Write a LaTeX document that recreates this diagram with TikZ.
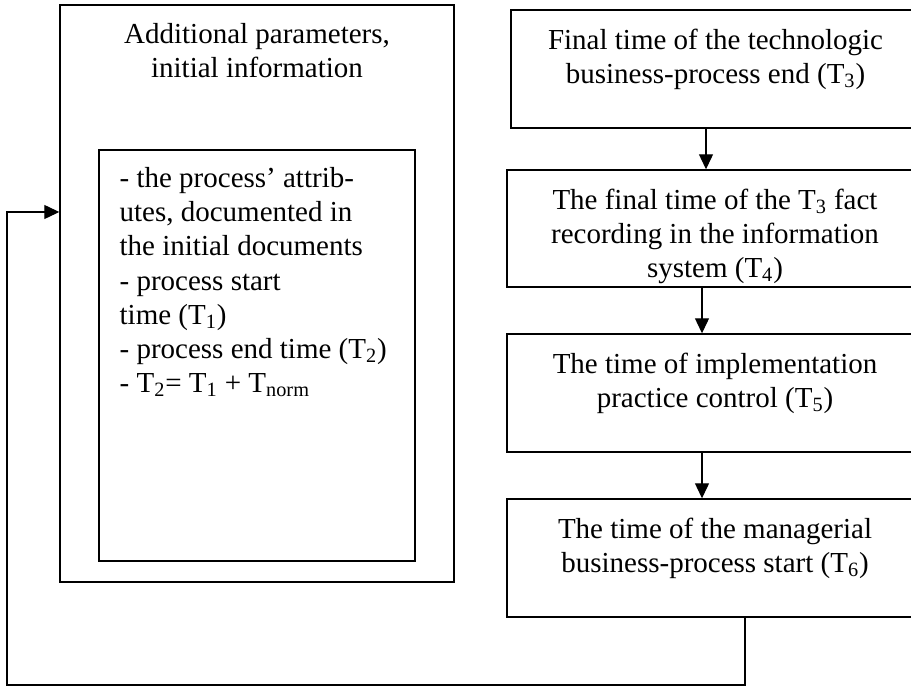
\documentclass[tikz,border=0pt]{standalone}
\usepackage{fontspec}
\setmainfont{Liberation Serif}
\usetikzlibrary{positioning,arrows.meta}

\tikzset{
  frame/.style={draw,line width=0.8pt,inner sep=0pt},
  txt/.style={inner sep=0pt,anchor=north,align=center,font=\fontsize{16.5}{19.4}\selectfont},
  link/.style={line width=0.7pt,-{Triangle[length=0.3cm,width=0.28cm]}}
}

\begin{document}
\begin{tikzpicture}[scale=1]

% Time parameters of the business-process

\useasboundingbox (0,0) rectangle (18.22,13.74);
\clip (0,0) rectangle (18.22,13.74);

\begin{scope}
\node[frame,minimum width=7.88cm,minimum height=11.54cm] (out) at (5.14,7.87) {};
\node[frame,minimum width=6.32cm,minimum height=8.22cm] (inn) at (5.14,6.63) {};
\node[txt] (outtxt) at ([yshift=-0.38cm]out.north) {Additional parameters,\\initial information};
\node[txt,anchor=north west,align=left] (inntxt) at ([xshift=0.42cm,yshift=-0.36cm]inn.north west)
  {- the process’ attrib-\\utes, documented in\\the initial documents\\- process start\\time (T\textsubscript{1})\\- process end time (T\textsubscript{2})\\- T\textsubscript{2}= T\textsubscript{1} + T\textsubscript{norm}};
\end{scope}

\begin{scope}
\node[frame,minimum width=8.18cm,minimum height=2.36cm] (t3) at (14.31,12.36) {};
\node[frame,minimum width=8.26cm,minimum height=2.34cm] (t4) at (14.27,9.17) {};
\node[frame,minimum width=8.26cm,minimum height=2.36cm] (t5) at (14.27,5.88) {};
\node[frame,minimum width=8.26cm,minimum height=2.36cm] (t6) at (14.27,2.58) {};

\node[txt] (t3txt) at ([yshift=-0.38cm]t3.north) {Final time of the technologic\\business-process end (T\textsubscript{3})};
\node[txt] (t4txt) at ([xshift=0.03cm,yshift=-0.38cm]t4.north) {The final time of the T\textsubscript{3} fact\\recording in the information\\system (T\textsubscript{4})};
\node[txt] (t5txt) at ([xshift=0.03cm,yshift=-0.38cm]t5.north) {The time of implementation\\practice control (T\textsubscript{5})};
\node[txt] (t6txt) at ([xshift=0.03cm,yshift=-0.38cm]t6.north) {The time of the managerial\\business-process start (T\textsubscript{6})};

\draw[link] ([xshift=-0.19cm]t3.south) -- ([xshift=-0.19cm]t3.south |- t4.north);
\draw[link] ([xshift=-0.23cm]t4.south) -- ([xshift=-0.23cm]t5.north);
\draw[link] ([xshift=-0.23cm]t5.south) -- ([xshift=-0.23cm]t6.north);
\end{scope}

% feedback to the initial information
\coordinate (fb) at (0.14,0.04);
\coordinate (in) at ([yshift=1.63cm]out.west);
\draw[link] ([xshift=0.63cm]t6.south) |- (fb) |- (in);

\end{tikzpicture}
\end{document}
